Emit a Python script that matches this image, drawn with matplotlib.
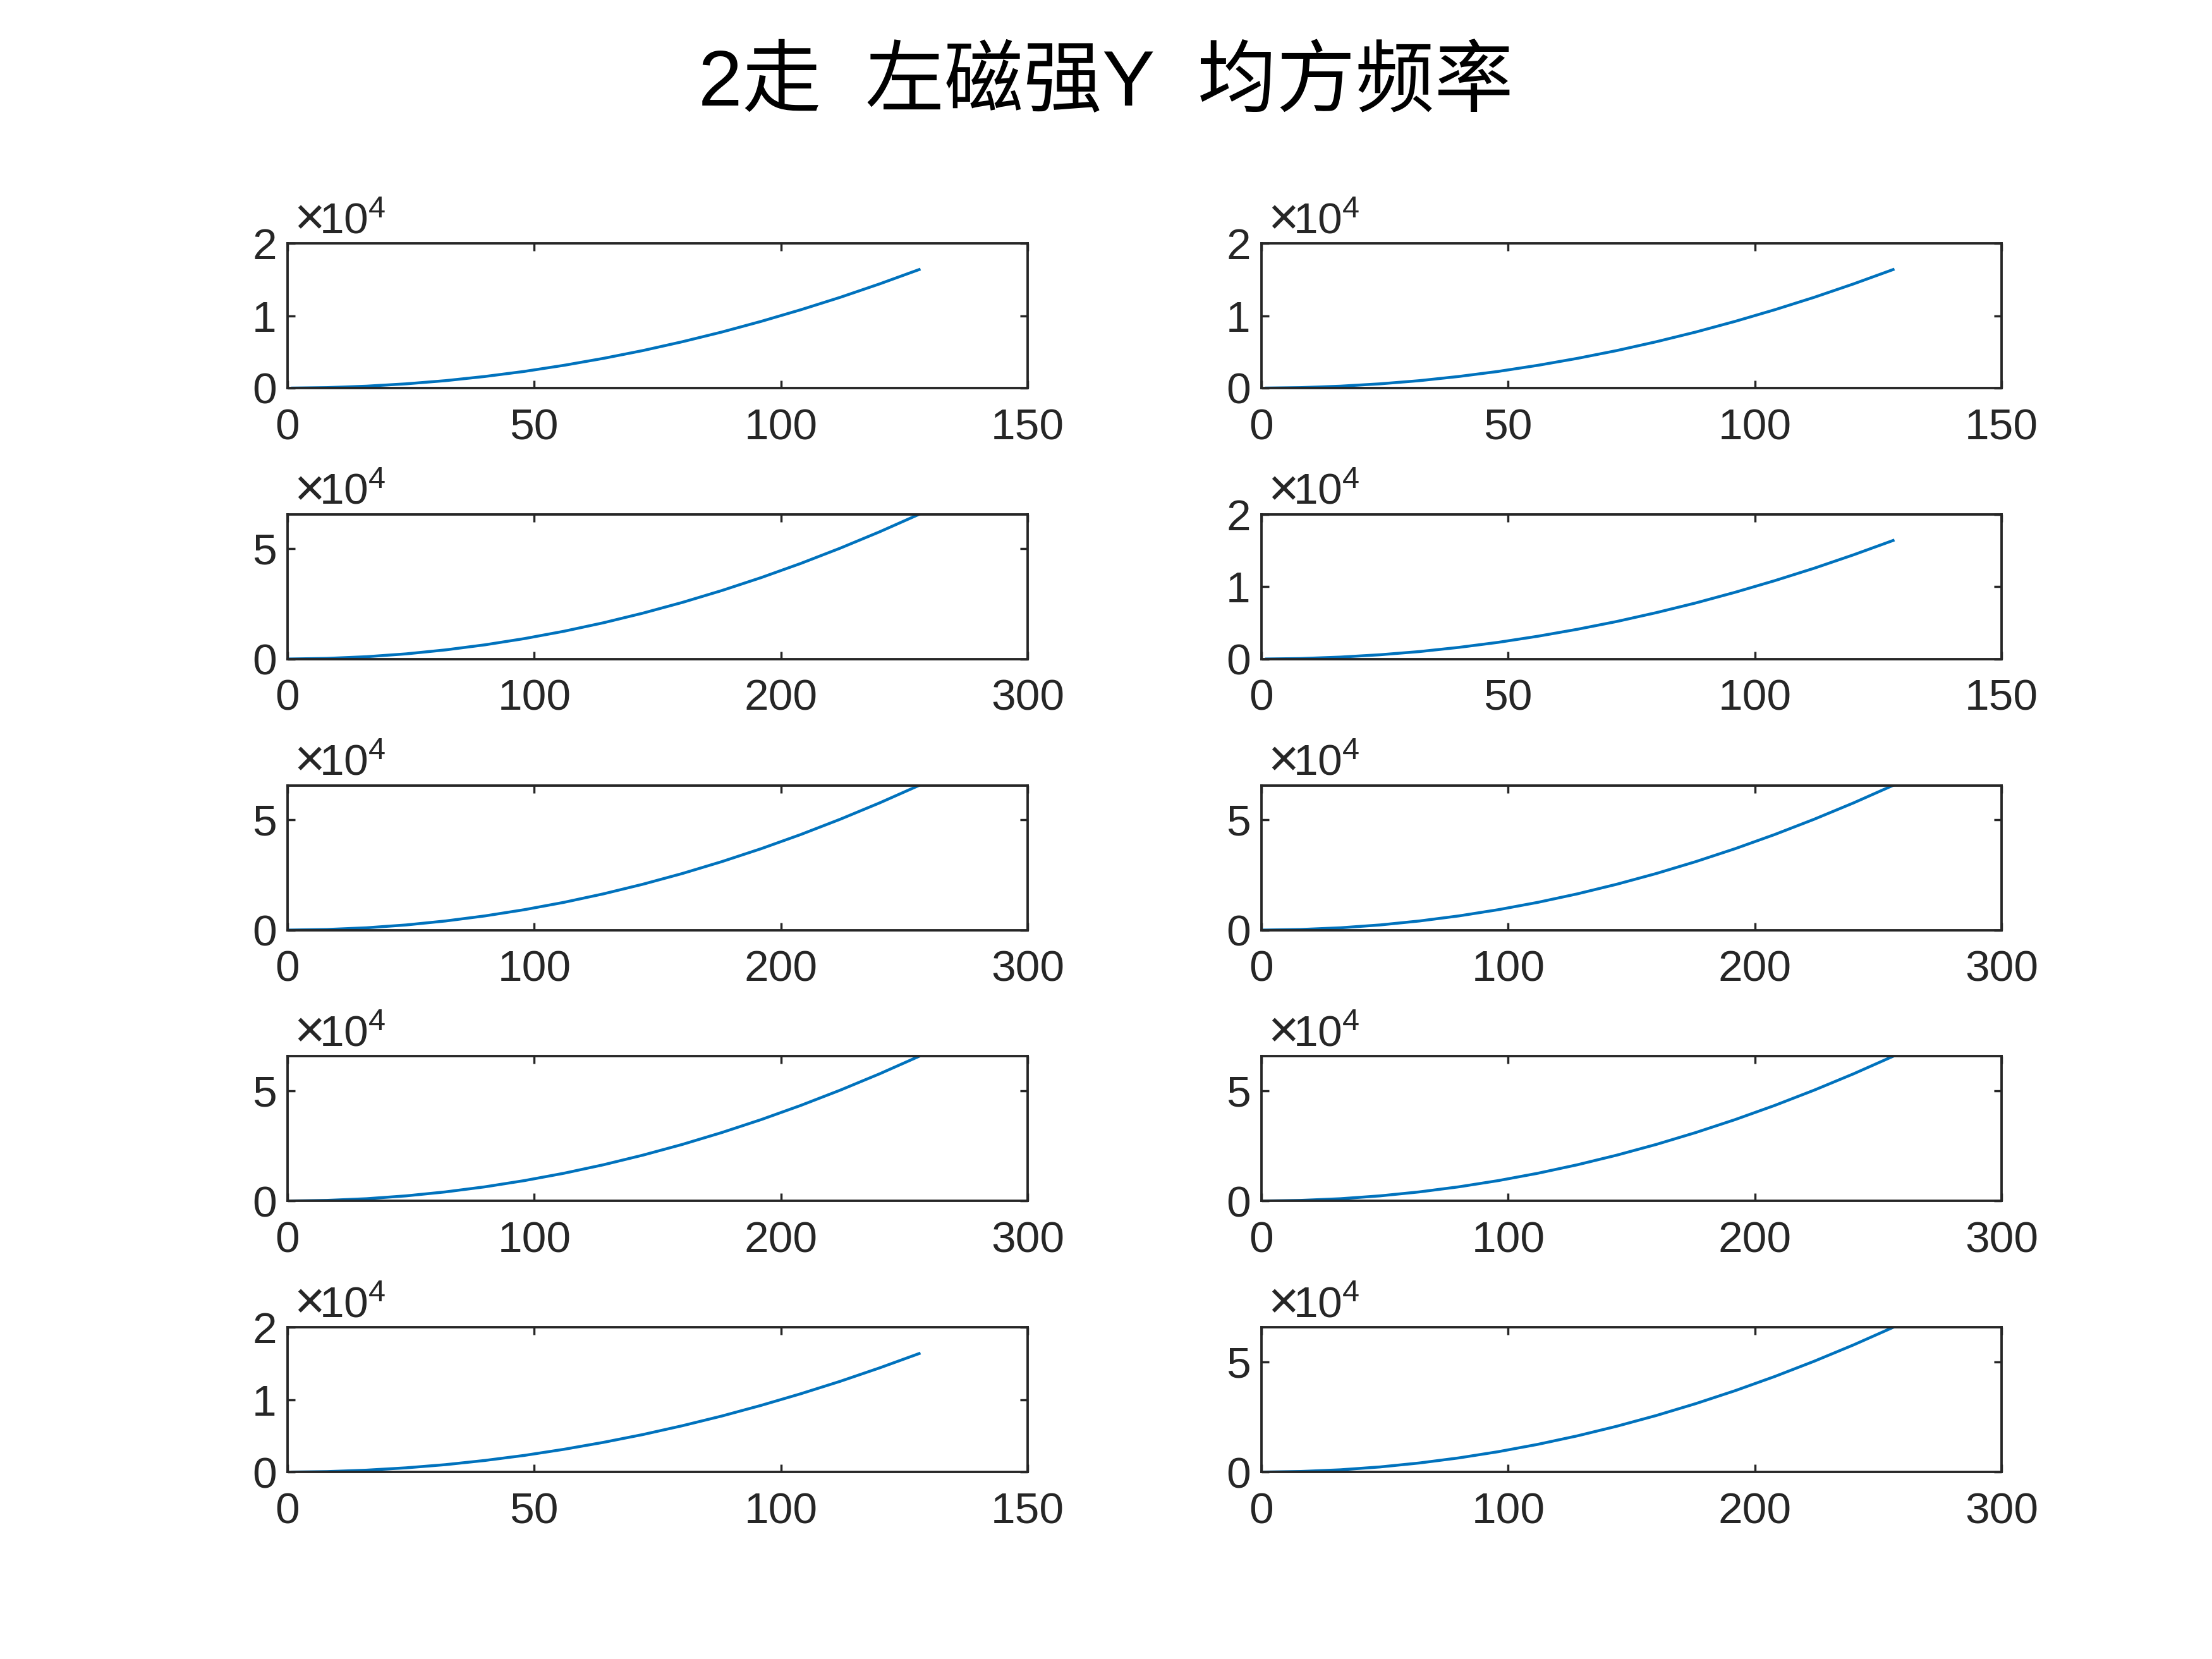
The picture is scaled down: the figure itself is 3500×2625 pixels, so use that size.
import matplotlib
matplotlib.use("Agg")
import matplotlib.pyplot as plt
from matplotlib.ticker import FuncFormatter

plt.rcParams['font.family'] = ['Liberation Sans', 'Noto Sans CJK SC', 'DejaVu Sans']
plt.rcParams['mathtext.fontset'] = 'custom'
plt.rcParams['mathtext.rm'] = 'Liberation Sans'
plt.rcParams['mathtext.it'] = 'Liberation Sans'

title = "2走  左磁强Y  均方频率"

# short series (128 samples)
x_short = [1, 8, 16, 24, 32, 40, 48, 56, 64, 72, 80, 88, 96, 104, 112, 120, 128]
y_short = [0, 60, 260, 580, 1020, 1600, 2300, 3140, 4100, 5180, 6400,
           7740, 9220, 10820, 12540, 14400, 16380]
xticks_short = [0, 50, 100, 150]
yticks_short = [0, 10000, 20000]

# long series (256 samples)
x_long = [1, 16, 32, 48, 64, 80, 96, 112, 128, 144, 160, 176, 192, 208, 224, 240, 256]
y_long = [0, 260, 1020, 2300, 4100, 6400, 9220, 12540, 16380, 20740, 25600,
          30980, 36860, 43260, 50180, 57600, 65530]
xticks_long = [0, 100, 200, 300]
yticks_long = [0, 50000]

# panel layout: (row, col) -> which series
left_col = ['short', 'long', 'long', 'long', 'short']
right_col = ['short', 'short', 'long', 'long', 'long']

fig = plt.figure(figsize=(14, 10.5), dpi=250, facecolor='white')
fig.text(0.5, 0.9364, title, ha='center', va='baseline', fontsize=36, color='black')

lefts = [0.130, 0.5703]
width = 0.3346
height = 0.0872
bottoms = [0.7661, 0.6028, 0.4394, 0.2761, 0.1127]

for c, col in enumerate([left_col, right_col]):
    for r, kind in enumerate(col):
        ax = fig.add_axes([lefts[c], bottoms[r], width, height])
        if kind == 'short':
            xs, ys, xt, yt = x_short, y_short, xticks_short, yticks_short
            ytop = 20000
        else:
            xs, ys, xt, yt = x_long, y_long, xticks_long, yticks_long
            ytop = max(y_long)
        ax.plot(xs, ys, color='#0072BD', lw=1.3)
        ax.set_xlim(xt[0], xt[-1])
        ax.set_ylim(0, ytop)
        ax.set_xticks(xt)
        ax.set_yticks(yt)
        ax.yaxis.set_major_formatter(FuncFormatter(lambda v, _: f'{v / 1e4:g}'))
        ax.tick_params(direction='in', length=3.4, width=1.0, labelsize=20,
                       colors='#262626', top=True, right=True)
        ax.tick_params(axis='x', pad=9)
        ax.tick_params(axis='y', pad=5)
        for s in ax.spines.values():
            s.set_color('#262626')
            s.set_linewidth(1.1)
        ax.text(0.0085, 1.07, r'$\times$', transform=ax.transAxes,
                ha='left', va='baseline', fontsize=24, color='#262626')
        ax.text(0.043, 1.07, r'$10^{4}$', transform=ax.transAxes,
                ha='left', va='baseline', fontsize=20, color='#262626')

fig.savefig('out.png', dpi=250, facecolor='white')
